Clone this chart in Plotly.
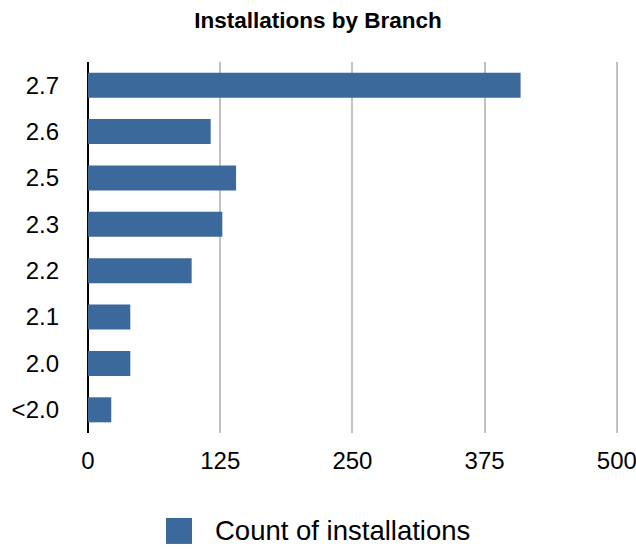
import plotly.graph_objects as go

# Installations per branch (top to bottom as drawn)
branches = ["2.7", "2.6", "2.5", "2.3", "2.2", "2.1", "2.0", "<2.0"]
installations = [409, 116, 140, 127, 98, 40, 40, 22]
x_ticks = [0, 125, 250, 375, 500]
series_name = "Count of installations"

bar_color = "#3b699c"
font_family = "Liberation Sans, Arial, Helvetica, sans-serif"

fig = go.Figure()
fig.add_trace(go.Bar(
    x=installations,
    y=branches,
    orientation="h",
    width=0.54,
    marker=dict(color=bar_color, line=dict(width=0)),
    name=series_name,
    showlegend=False,
))

fig.update_layout(
    width=636,
    height=549,
    margin=dict(l=88, r=16, t=62, b=116, autoexpand=False),
    paper_bgcolor="white",
    plot_bgcolor="white",
    font=dict(family=font_family, color="black"),
    title=dict(
        text="<b>Installations by Branch</b>",
        font=dict(size=22.5, color="black", family=font_family),
        x=0.5, xref="container", xanchor="center",
        y=1 - 20 / 549, yanchor="middle",
    ),
    bargap=0.46,
)

fig.update_xaxes(
    range=[0, 503],
    automargin=False,
    tickvals=x_ticks,
    ticktext=[str(v) for v in x_ticks],
    ticklabeloverflow="allow",
    showgrid=True,
    gridcolor="#c2c2c2",
    gridwidth=2,
    zeroline=True,
    zerolinecolor="black",
    zerolinewidth=2,
    showline=False,
    ticks="",
    ticklabelstandoff=11,
    tickfont=dict(size=24, color="black"),
)

fig.update_yaxes(
    automargin=False,
    categoryorder="array",
    categoryarray=branches[::-1],
    range=[-0.5, len(branches) - 0.5],
    showgrid=False,
    zeroline=False,
    showline=False,
    ticks="",
    ticklabelstandoff=28,
    tickfont=dict(size=24, color="black"),
)

# Legend swatch and label below the plot (plot area spans x 88..620, y 62..433)
fig.add_shape(
    type="rect", xref="paper", yref="paper",
    x0=(166 - 88) / 532, x1=(192 - 88) / 532, y0=-0.299, y1=-0.229,
    fillcolor=bar_color, line=dict(width=0),
)
fig.add_annotation(
    xref="paper", yref="paper",
    x=(213 - 88) / 532, y=-0.264, xanchor="left", yanchor="middle",
    text=series_name, showarrow=False,
    font=dict(size=27.5, color="black", family=font_family),
)

fig.write_html("out.html")
